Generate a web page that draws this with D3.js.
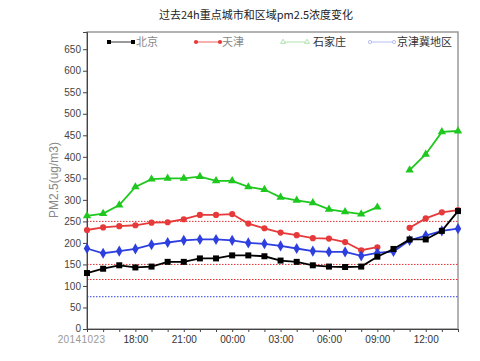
<!DOCTYPE html>
<html><head><meta charset="utf-8">
<script src="https://cdn.jsdelivr.net/npm/d3@7"></script>
<style>body{margin:0;background:#fff}svg{display:block}</style>
</head><body>
<svg id="c" width="480" height="361"></svg>
<script>
const hours = ["15:00","16:00","17:00","18:00","19:00","20:00","21:00","22:00","23:00","00:00","01:00","02:00","03:00","04:00","05:00","06:00","07:00","08:00","09:00","10:00","11:00","12:00","13:00","14:00"];
const tickLabels = {0:"20141023",3:"18:00",6:"21:00",9:"00:00",12:"03:00",15:"06:00",18:"09:00",21:"12:00"};
const beijing = [130,140,148,143,145,156,156,164,164,171,171,169,159,156,148,145,144,145,168,186,208,208,228,274];
const tianjin = [230,236,239,241,247,248,255,265,265,267,245,234,224,218,211,210,202,183,190,null,235,257,271,276];
const shijiazhuang = [263,268,288,330,348,350,350,354,344,344,330,324,306,299,293,278,272,267,283,null,369,406,458,460];
const region = [187,176,181,186,196,201,206,208,208,206,200,198,193,187,181,179,179,170,177,180,206,217,228,233];
const yTicks = d3.range(0,651,50);
const refRed = [250,150,115];
const refBlue = [75];
const seriesNames = ["北京","天津","石家庄","京津冀地区"];

const svg = d3.select("#c");
const L=87,R=458,T=32,B=329;
const x = d3.scaleLinear().domain([0,23]).range([L,R]);
const y = d3.scaleLinear().domain([0,690]).range([B,T]);

// title
svg.append("text").attr("x",256).attr("y",19).attr("text-anchor","middle")
  .attr("font-family","'Noto Sans CJK SC'").attr("font-size",11).attr("fill","#222")
  .text("过去24h重点城市和区域pm2.5浓度变化");

// frame
svg.append("rect").attr("x",L).attr("y",T).attr("width",R-L).attr("height",B-T)
  .attr("fill","none").attr("stroke","#999").attr("stroke-width",1.5);

// reference lines
refRed.forEach(v=>svg.append("line").attr("x1",L).attr("x2",R).attr("y1",y(v)).attr("y2",y(v))
  .attr("stroke","#e03030").attr("stroke-width",1).attr("stroke-dasharray","1.5,1.5"));
refBlue.forEach(v=>svg.append("line").attr("x1",L).attr("x2",R).attr("y1",y(v)).attr("y2",y(v))
  .attr("stroke","#3040e0").attr("stroke-width",1).attr("stroke-dasharray","1.5,1.5"));

// axes
const ya = svg.append("g").attr("transform",`translate(${L},0)`)
  .call(d3.axisLeft(y).tickValues(yTicks).tickSize(4).tickPadding(2));
ya.selectAll("text").attr("font-family","'Liberation Sans',Arial").attr("font-size",10).attr("fill","#444");
ya.selectAll(".tick").filter(d=>d===0).select("text").attr("dy","0.2em");
ya.selectAll("line").attr("stroke","#444");
ya.select(".domain").attr("stroke","#444");

const xa = svg.append("g").attr("transform",`translate(0,${B})`)
  .call(d3.axisBottom(x).tickValues(d3.range(0,24)).tickSize(3).tickPadding(4)
    .tickFormat(i=>tickLabels[i]||""));
xa.selectAll("text").attr("font-family","'Liberation Sans',Arial").attr("font-size",10).attr("fill","#333");
xa.selectAll(".tick").filter(d=>d===0).select("text").attr("fill","#999").attr("dx",-6).attr("letter-spacing",0.4);
xa.selectAll("line").attr("stroke","#444");
xa.select(".domain").attr("stroke","#444");

// y label
svg.append("text").attr("transform","translate(58,180) rotate(-90)").attr("text-anchor","middle")
  .attr("font-family","'Liberation Sans',Arial").attr("font-size",12).attr("fill","#888")
  .text("PM2.5(ug/m3)");

const idx = d3.range(24);
function line(data){
  return d3.line().defined(i=>data[i]!=null).x(i=>x(i)).y(i=>y(data[i]))(idx);
}
const sq = d3.symbol().type(d3.symbolSquare).size(36);
const ci = d3.symbol().type(d3.symbolCircle).size(30);
const tr = d3.symbol().type(d3.symbolTriangle).size(30);
const di = d3.symbol().type(d3.symbolDiamond).size(36);

const series = [
  {data:beijing,color:"#000",sym:sq,legColor:"#000",legLine:"#000",legText:"#888"},
  {data:tianjin,color:"#e63a3a",sym:ci,legColor:"#e63a3a",legLine:"#e63a3a",legText:"#888"},
  {data:shijiazhuang,color:"#1ec81e",sym:tr,legColor:"#9ddc9d",legLine:"#9ddc9d",legText:"#333"},
  {data:region,color:"#2e3fe0",sym:di,legColor:"#a6aef0",legLine:"#a6aef0",legText:"#333"}
];
// draw in order: green, red, blue, black
[2,1,3,0].forEach(k=>{
  const s=series[k];
  svg.append("path").attr("d",line(s.data)).attr("fill","none").attr("stroke",s.color).attr("stroke-width",1.8);
  svg.append("g").selectAll("path").data(idx.filter(i=>s.data[i]!=null)).join("path")
    .attr("transform",i=>`translate(${x(i)},${y(s.data[i])})`).attr("d",s.sym()).attr("fill",s.color);
});

// legend
const legX = [109,196,283,370];
const legTextX = [136,222,313,397];
const legSyms = [
  d3.symbol().type(d3.symbolSquare).size(16),
  d3.symbol().type(d3.symbolCircle).size(14),
  d3.symbol().type(d3.symbolTriangle).size(10),
  d3.symbol().type(d3.symbolCircle).size(8)
];
series.forEach((s,k)=>{
  const g=svg.append("g");
  const ly=42;
  g.append("line").attr("x1",legX[k]).attr("x2",legX[k]+24).attr("y1",ly).attr("y2",ly).attr("stroke",s.legLine).attr("stroke-width",0.8);
  [legX[k],legX[k]+24].forEach(px=>{
    const p=g.append("path").attr("transform",`translate(${px},${ly})`).attr("d",legSyms[k]());
    if(k>=2) p.attr("fill","#fff").attr("stroke",s.legColor).attr("stroke-width",0.8);
    else p.attr("fill",s.legColor);
  });
  g.append("text").attr("x",legTextX[k]).attr("y",ly+4).attr("font-family","'Noto Sans CJK SC'")
    .attr("font-size",11).attr("fill",s.legText).text(seriesNames[k]);
});
</script>
</body></html>
